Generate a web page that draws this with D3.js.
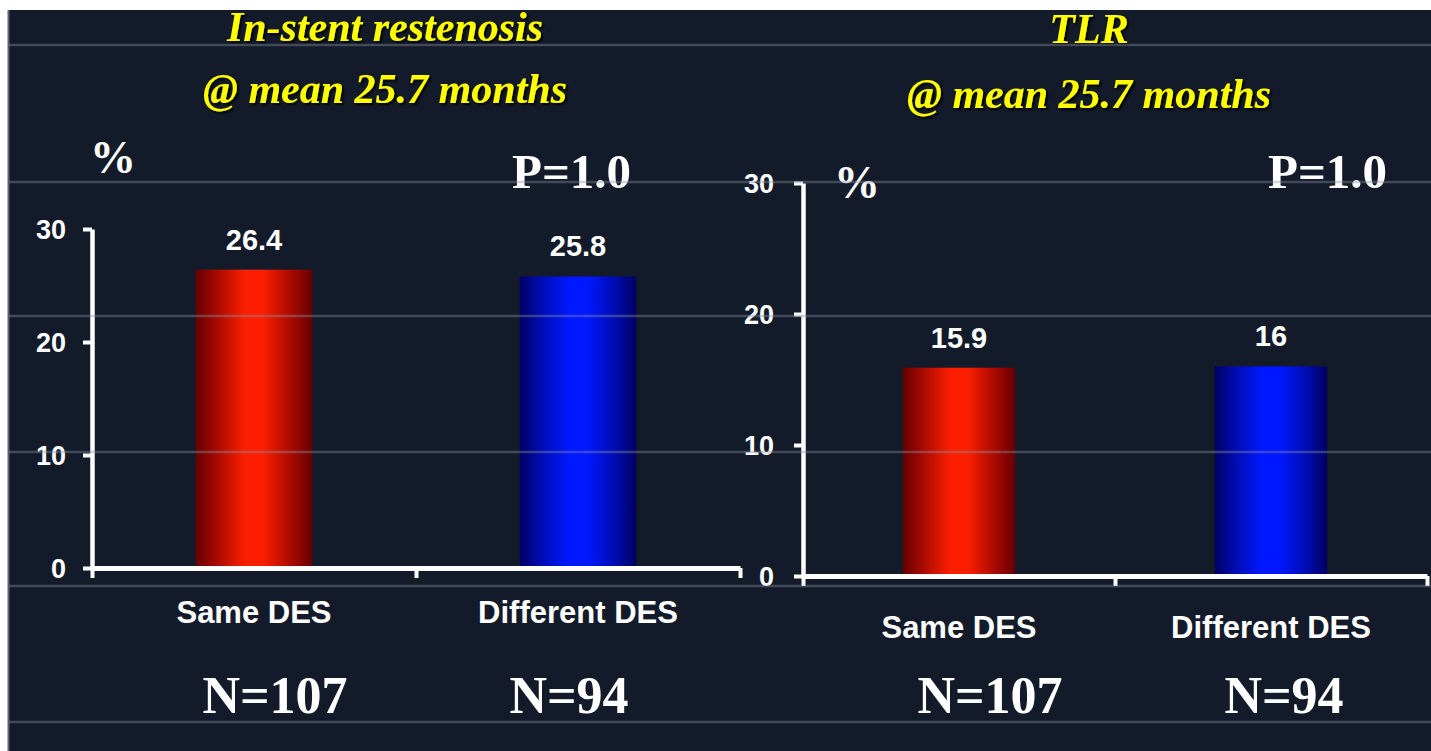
<!DOCTYPE html>
<html><head><meta charset="utf-8">
<script src="https://cdn.jsdelivr.net/npm/d3@7"></script>
<style>
html,body{margin:0;padding:0;background:#fff;overflow:hidden}
svg{display:block}
</style></head>
<body>
<script>
// ---- data ----
const categories = ["Same DES", "Different DES"];
const restenosisValues = [26.4, 25.8];
const tlrValues = [15.9, 16];
const nLabels = ["N=107", "N=94"];
const yTicks = [0, 10, 20, 30];
const panelTitles = [["In-stent restenosis", "@ mean 25.7 months"], ["TLR", "@ mean 25.7 months"]];
const pValues = ["P=1.0", "P=1.0"];

const W = 1431, H = 751;
const svg = d3.select("body").append("svg").attr("width", W).attr("height", H);
const defs = svg.append("defs");

function grad(id, dark, mid, bright) {
  const g = defs.append("linearGradient").attr("id", id).attr("x1", "0%").attr("x2", "100%").attr("y1", "0%").attr("y2", "0%");
  [[0, dark], [0.18, mid], [0.42, bright], [0.58, bright], [0.82, mid], [1, dark]].forEach(([o, c]) =>
    g.append("stop").attr("offset", o).attr("stop-color", c));
}
grad("gRed", "#650000", "#a80a00", "#fb1e00");
grad("gBlue", "#000062", "#000cb0", "#0018ff");
const barFills = ["url(#gRed)", "url(#gBlue)"];

const f = defs.append("filter").attr("id", "shadow").attr("x", "-10%").attr("y", "-20%").attr("width", "130%").attr("height", "150%");
f.append("feDropShadow").attr("dx", 2).attr("dy", 2).attr("stdDeviation", 1).attr("flood-color", "#000").attr("flood-opacity", 0.9);

// slide background
svg.append("rect").attr("x", 0).attr("y", 0).attr("width", W).attr("height", H).attr("fill", "#ffffff");
svg.append("rect").attr("x", 8).attr("y", 10).attr("width", W - 8).attr("height", H - 10).attr("fill", "#131a29");
svg.append("line").attr("x1", 8.5).attr("x2", 8.5).attr("y1", 10).attr("y2", H).attr("stroke", "#5a6478").attr("stroke-width", 2);

const panels = [
  { values: restenosisValues, x0: 92, x1: 740, yBase: 568, yTop: 229,
    titleX: 385, titleY: [41, 103], pctX: 90, pctY: 173, pX: 512, pY: 188,
    catY: 623, nY: 713, nOffset: [21, -9], tickGap: 17 },
  { values: tlrValues, x0: 803, x1: 1427, yBase: 576, yTop: 183,
    titleX: 1089, titleY: [43, 108], pctX: 834, pctY: 198, pX: 1268, pY: 188,
    catY: 638, nY: 713, nOffset: [31, 13], tickGap: 20 }
];

const sans = "'Liberation Sans', Arial, sans-serif";
const serif = "'Liberation Serif', 'Times New Roman', serif";

panels.forEach((p, i) => {
  const g = svg.append("g");
  const x = d3.scaleBand().domain(categories).range([p.x0, p.x1]).paddingInner(0.64).paddingOuter(0.32);
  const y = d3.scaleLinear().domain([0, 30]).range([p.yBase, p.yTop]);
  const xb = d3.scaleLinear().domain([0, categories.length]).range([p.x0, p.x1]);

  // bars
  g.selectAll("rect.bar").data(p.values).join("rect").attr("class", "bar")
    .attr("x", (d, j) => x(categories[j])).attr("width", x.bandwidth())
    .attr("y", d => y(d)).attr("height", d => y(0) - y(d))
    .attr("fill", (d, j) => barFills[j]);

  // value labels
  g.selectAll("text.val").data(p.values).join("text").attr("class", "val")
    .attr("x", (d, j) => x(categories[j]) + x.bandwidth() / 2).attr("y", d => y(d) - 20)
    .attr("text-anchor", "middle").attr("fill", "#fff")
    .style("font", `bold 29px ${sans}`).text(d => String(d));

  // y axis
  const ya = g.append("g").attr("transform", `translate(${p.x0},0)`)
    .call(d3.axisLeft(y).tickValues(yTicks).tickSize(9).tickSizeOuter(0).tickPadding(p.tickGap).tickFormat(d3.format("d")));
  ya.select(".domain").attr("stroke", "#fff").attr("stroke-width", 4.5);
  ya.selectAll(".tick line").attr("stroke", "#fff").attr("stroke-width", 4);
  ya.selectAll(".tick text").attr("fill", "#fff").style("font", `bold 27px ${sans}`).attr("dy", "0.36em");

  // x axis
  const xa = g.append("g").attr("transform", `translate(0,${p.yBase})`)
    .call(d3.axisBottom(xb).tickValues(d3.range(categories.length + 1)).tickSize(10).tickSizeOuter(0).tickFormat(""));
  xa.select(".domain").attr("stroke", "#fff").attr("stroke-width", 5);
  xa.selectAll(".tick line").attr("stroke", "#fff").attr("stroke-width", 4);

  // category labels
  g.selectAll("text.cat").data(categories).join("text").attr("class", "cat")
    .attr("x", d => x(d) + x.bandwidth() / 2).attr("y", p.catY)
    .attr("text-anchor", "middle").attr("fill", "#fff")
    .style("font", `bold 31px ${sans}`).text(d => d);

  // N labels
  g.selectAll("text.n").data(nLabels).join("text").attr("class", "n")
    .attr("x", (d, j) => x(categories[j]) + x.bandwidth() / 2 + p.nOffset[j]).attr("y", p.nY)
    .attr("text-anchor", "middle").attr("fill", "#fff")
    .style("font", `bold 52px ${serif}`).text(d => d);

  // titles
  panelTitles[i].forEach((t, k) => {
    g.append("text").attr("x", p.titleX).attr("y", p.titleY[k]).attr("text-anchor", "middle")
      .attr("fill", "#ffff00").attr("filter", "url(#shadow)")
      .style("font", `italic bold 42px ${serif}`).text(t);
  });

  // % and P
  g.append("text").attr("x", p.pctX).attr("y", p.pctY).attr("fill", "#fff")
    .style("font", `bold 46px ${serif}`).text("%");
  g.append("text").attr("x", p.pX).attr("y", p.pY).attr("fill", "#fff")
    .style("font", `bold 49px ${serif}`).text(pValues[i]);
});

// slide rule lines (overlay, semi-transparent)
const slideLines = [45, 182, 316, 452, 586, 722];
svg.selectAll("line.rule").data(slideLines).join("line").attr("class", "rule")
  .attr("x1", 9).attr("x2", W).attr("y1", d => d).attr("y2", d => d)
  .attr("stroke", "#8a93a3").attr("stroke-opacity", 0.4).attr("stroke-width", 2.5);
</script>
</body></html>
